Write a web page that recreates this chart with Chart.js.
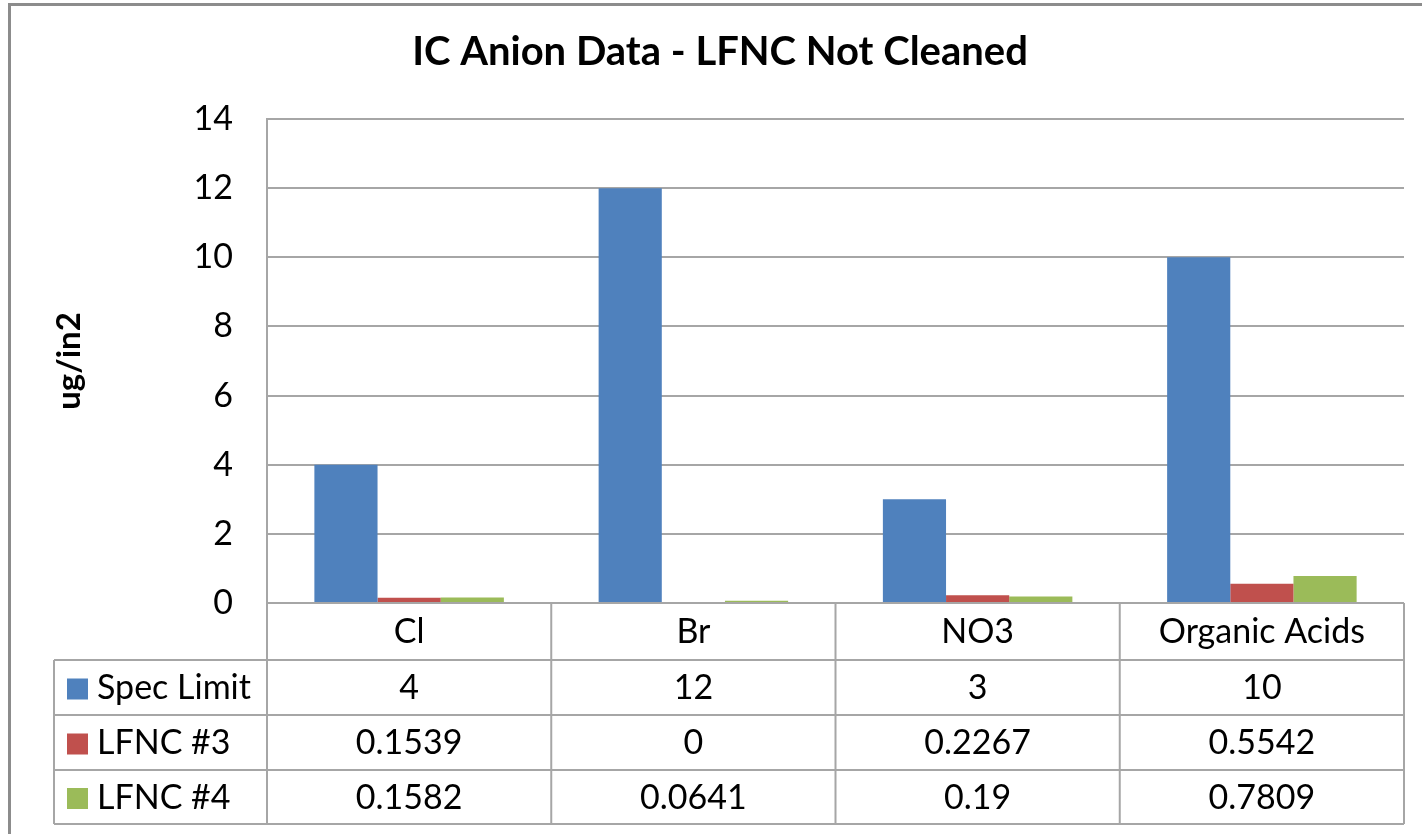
<!DOCTYPE html>
<html>
<head>
<meta charset="utf-8">
<title>IC Anion Data - LFNC Not Cleaned</title>
<script src="https://cdn.jsdelivr.net/npm/chart.js@4"></script>
<style>
  html, body { margin:0; padding:0; background:#fff; }
  #wrap { position:relative; width:1422px; height:834px; }
</style>
</head>
<body>
<div id="wrap"><canvas id="chart" width="1422" height="834"></canvas></div>
<script>
// ---------- Data ----------
const categories = ['Cl', 'Br', 'NO3', 'Organic Acids'];
const specLimit  = [4, 12, 3, 10];
const lfnc3      = [0.1539, 0, 0.2267, 0.5542];
const lfnc4      = [0.1582, 0.0641, 0.19, 0.7809];
const seriesNames = ['Spec Limit', 'LFNC #3', 'LFNC #4'];
const Y_MAX = 14, Y_STEP = 2;

// ---------- Style ----------
const FONT = 'Lato';
const cBlue = '#4F81BD', cRed = '#C0504D', cGreen = '#9BBB59';
const lineGray = '#a6a6a6';
const TABLE_LEFT = 54;
const ROWS = [603, 660, 715, 770, 824];   // header row + one row per series

// outer frame (top + left edge only, like a clipped chart object)
const framePlugin = {
  id: 'frame',
  beforeDraw(chart){
    const ctx = chart.ctx;
    ctx.save();
    ctx.strokeStyle = '#8c8c8c';
    ctx.lineWidth = 3;
    ctx.beginPath();
    ctx.moveTo(9.5, 900); ctx.lineTo(9.5, 4.5); ctx.lineTo(1430, 4.5);
    ctx.stroke();
    ctx.restore();
  }
};

// data table under the plot
const tablePlugin = {
  id: 'dataTable',
  afterDraw(chart){
    const { ctx, scales:{ x } } = chart;
    const data = chart.data.datasets;
    const colW = x.width / categories.length;
    const right = x.right;
    ctx.save();
    ctx.strokeStyle = lineGray;
    ctx.lineWidth = 2;
    ctx.beginPath();
    // horizontal lines
    ctx.moveTo(x.left, ROWS[0]); ctx.lineTo(right, ROWS[0]);
    for (let r = 1; r < ROWS.length; r++){ ctx.moveTo(TABLE_LEFT, ROWS[r]); ctx.lineTo(right, ROWS[r]); }
    // vertical lines
    ctx.moveTo(TABLE_LEFT, ROWS[1]); ctx.lineTo(TABLE_LEFT, ROWS[ROWS.length-1]);
    for (let i = 0; i <= categories.length; i++){
      const px = x.left + i * colW;
      ctx.moveTo(px, ROWS[0]); ctx.lineTo(px, ROWS[ROWS.length-1]);
    }
    ctx.stroke();

    ctx.fillStyle = '#000';
    ctx.font = `34px ${FONT}`;
    ctx.textBaseline = 'middle';
    ctx.textAlign = 'center';
    categories.forEach((c, i) => {
      ctx.fillText(c, x.getPixelForValue(i), (ROWS[0] + ROWS[1]) / 2 + 1);
    });
    data.forEach((ds, r) => {
      const cy = (ROWS[r+1] + ROWS[r+2]) / 2 + 1;
      // legend key
      ctx.fillStyle = ds.backgroundColor;
      ctx.fillRect(67, cy - 10, 21, 21);
      ctx.fillStyle = '#000';
      ctx.textAlign = 'left';
      ctx.fillText(ds.label, 97, cy);
      ctx.textAlign = 'center';
      ds.data.forEach((v, i) => ctx.fillText(String(v), x.getPixelForValue(i), cy));
    });
    ctx.restore();
  }
};

new Chart(document.getElementById('chart'), {
  type: 'bar',
  data: {
    labels: categories,
    datasets: [
      { label: seriesNames[0], data: specLimit, backgroundColor: cBlue },
      { label: seriesNames[1], data: lfnc3,     backgroundColor: cRed },
      { label: seriesNames[2], data: lfnc4,     backgroundColor: cGreen }
    ]
  },
  options: {
    responsive: false,
    animation: false,
    layout: { padding: { left: 18, right: 0, top: 0, bottom: 231 } },
    datasets: { bar: { categoryPercentage: 3 / 4.5, barPercentage: 1, borderWidth: 0 } },
    plugins: {
      legend: { display: false },
      tooltip: { enabled: false },
      title: {
        display: true,
        text: 'IC Anion Data - LFNC Not Cleaned',
        color: '#000',
        font: { family: FONT, size: 40, weight: 'bold', lineHeight: 1.2 },
        padding: { top: 28, bottom: 43 }
      }
    },
    scales: {
      x: { display: false },
      y: {
        min: 0, max: Y_MAX,
        afterFit(scale){ scale.width = 249; },
        ticks: { stepSize: Y_STEP, color: '#000', padding: 34, font: { family: FONT, size: 34 } },
        grid: { color: lineGray, lineWidth: 2, drawTicks: false },
        border: { display: true, color: lineGray, width: 2 },
        title: {
          display: true, text: 'ug/in2', color: '#000',
          font: { family: FONT, size: 33, weight: 'bold', lineHeight: 1.2 },
          padding: { top: 32, bottom: 0 }
        }
      },
      // empty right-hand margin so the plot ends where the frame is clipped
      yRight: {
        position: 'right',
        afterFit(scale){ scale.width = 18; },
        ticks: { display: false },
        grid: { display: false },
        border: { display: false }
      }
    }
  },
  plugins: [framePlugin, tablePlugin]
});
</script>
</body>
</html>
